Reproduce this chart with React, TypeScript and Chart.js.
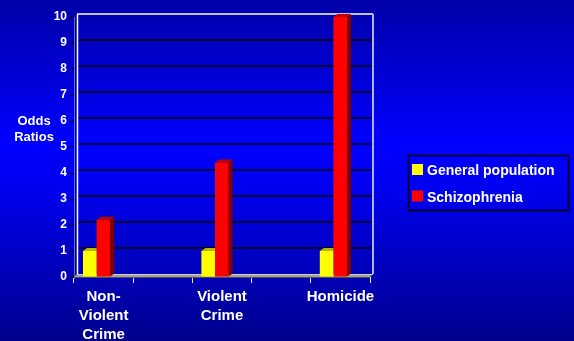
import React, { useEffect, useRef } from "react";
import { Chart, registerables } from "chart.js";

Chart.register(...registerables);

const categories: (string | string[])[] = [["Non-", "Violent", "Crime"], "", ["Violent", "Crime"], "", "Homicide"];
const generalPopulation: (number | null)[] = [1, null, 1, null, 1];
const schizophrenia: (number | null)[] = [2.2, null, 4.4, null, 10];
const seriesNames = ["General population", "Schizophrenia"];
const seriesColors = ["#ffff00", "#ff0000"];
const topColors = ["#b8b800", "#c00000"];
const sideColors = ["#9a9a00", "#800000"];
const yTitle = ["Odds", "Ratios"];

const FONT = "Arial, 'Liberation Sans', sans-serif";
const DX = 3;
const DY = 3;
const SHIFT = -7;

const bgPlugin = {
  id: "bg",
  beforeDraw(chart: any) {
    const { ctx, width, height } = chart;
    const g = ctx.createLinearGradient(0, 0, 0, height);
    g.addColorStop(0, "#0000a8");
    g.addColorStop(0.42, "#0000ff");
    g.addColorStop(0.55, "#0000f0");
    g.addColorStop(1, "#00008c");
    ctx.save();
    ctx.fillStyle = g;
    ctx.fillRect(0, 0, width, height);
    ctx.restore();
  },
};

function drawFaces(chart: any, idx: number, clipTop: boolean) {
  const { ctx } = chart;
  const meta = chart.getDatasetMeta(idx);
  const values = chart.data.datasets[idx].data;
  meta.data.forEach((el: any, i: number) => {
    if (values[i] == null) return;
    const p = el.getProps(["x", "y", "base", "width"], true);
    const l = p.x - p.width / 2;
    const r = p.x + p.width / 2;
    ctx.fillStyle = topColors[idx];
    ctx.beginPath();
    ctx.moveTo(l, p.y);
    ctx.lineTo(r, p.y);
    if (clipTop) {
      ctx.lineTo(r, p.y - DY);
    } else {
      ctx.lineTo(r + DX + 1, p.y - DY);
    }
    ctx.lineTo(l + DX + 1, p.y - DY);
    ctx.closePath();
    ctx.fill();
    if (!clipTop) {
      ctx.fillStyle = sideColors[idx];
      ctx.beginPath();
      ctx.moveTo(r, p.y);
      ctx.lineTo(r + DX + 1, p.y - DY);
      ctx.lineTo(r + DX + 1, p.base - DY);
      ctx.lineTo(r, p.base);
      ctx.closePath();
      ctx.fill();
    }
  });
}

const frame3dPlugin = {
  id: "frame3d",
  beforeDatasetsDraw(chart: any) {
    const { ctx, chartArea } = chart;
    const y = chart.scales.y;
    const { left, right, top, bottom } = chartArea;
    ctx.save();
    // floor
    ctx.fillStyle = "#a0a0a0";
    ctx.beginPath();
    ctx.moveTo(left, bottom);
    ctx.lineTo(right, bottom);
    ctx.lineTo(right + DX, bottom - DY);
    ctx.lineTo(left + DX, bottom - DY);
    ctx.closePath();
    ctx.fill();
    ctx.strokeStyle = "#d0d0d0";
    ctx.lineWidth = 1;
    ctx.beginPath();
    ctx.moveTo(left + DX, bottom - DY + 0.5);
    ctx.lineTo(right + DX, bottom - DY + 0.5);
    ctx.stroke();
    ctx.strokeStyle = "#505050";
    ctx.beginPath();
    ctx.moveTo(left, bottom + 0.5);
    ctx.lineTo(right, bottom + 0.5);
    ctx.stroke();
    // back grid lines
    ctx.strokeStyle = "#000000";
    ctx.lineWidth = 1.5;
    for (let v = 1; v <= 9; v++) {
      const py = Math.round(y.getPixelForValue(v)) - DY;
      ctx.beginPath();
      ctx.moveTo(left + DX, py);
      ctx.lineTo(right + DX, py);
      ctx.stroke();
    }
    // top back edge
    const ty = Math.round(y.getPixelForValue(10)) - DY;
    ctx.strokeStyle = "#ffffff";
    ctx.lineWidth = 1.5;
    ctx.beginPath();
    ctx.moveTo(left + DX, ty);
    ctx.lineTo(right + DX, ty);
    ctx.stroke();
    // left back edge
    ctx.beginPath();
    ctx.moveTo(left + DX + 0.5, ty);
    ctx.lineTo(left + DX + 0.5, bottom - DY);
    ctx.stroke();
    // right back edge
    ctx.strokeStyle = "#b0b0ff";
    ctx.lineWidth = 2;
    ctx.beginPath();
    ctx.moveTo(right + DX, ty);
    ctx.lineTo(right + DX, bottom - DY);
    ctx.stroke();
    // front left axis
    ctx.strokeStyle = "#707070";
    ctx.lineWidth = 1;
    ctx.beginPath();
    ctx.moveTo(left + 0.5, top);
    ctx.lineTo(left + 0.5, bottom + 2);
    ctx.stroke();
    ctx.restore();

    ctx.save();
    ctx.translate(SHIFT, 0);
  },
  afterDatasetDraw(chart: any, args: any) {
    // dataset 1 (red) is drawn first, dataset 0 (yellow) last
    const idx = args.index;
    if (idx === 1) {
      drawFaces(chart, 1, false);
    } else {
      drawFaces(chart, 0, true);
    }
  },
  afterDatasetsDraw(chart: any) {
    chart.ctx.restore();
  },
};

const textPlugin = {
  id: "texts",
  afterDraw(chart: any) {
    const { ctx } = chart;
    ctx.save();
    ctx.fillStyle = "#ffffff";
    ctx.font = `bold 13px ${FONT}`;
    ctx.textAlign = "center";
    ctx.textBaseline = "alphabetic";
    ctx.fillText(yTitle[0], 34, 125);
    ctx.fillText(yTitle[1], 34, 141);

    // legend
    const lx = 408.5, ly = 155.5, lw = 160, lh = 55;
    ctx.strokeStyle = "#000000";
    ctx.lineWidth = 1.5;
    ctx.strokeRect(lx, ly, lw, lh);
    ctx.textAlign = "left";
    ctx.font = `bold 14px ${FONT}`;
    seriesNames.forEach((name, i) => {
      const cy = 170 + i * 26.5;
      ctx.fillStyle = seriesColors[i];
      ctx.fillRect(412, cy - 6, 11, 11);
      ctx.fillStyle = "#ffffff";
      ctx.fillText(name, 427, cy + 5);
    });
    ctx.restore();
  },
};

export default function App() {
  const ref = useRef<HTMLCanvasElement | null>(null);
  useEffect(() => {
    if (!ref.current) return;
    const chart = new Chart(ref.current, {
      type: "bar",
      data: {
        labels: categories as any,
        datasets: [
          {
            label: seriesNames[0],
            data: generalPopulation,
            backgroundColor: seriesColors[0],
            categoryPercentage: 0.46,
            barPercentage: 1,
          },
          {
            label: seriesNames[1],
            data: schizophrenia,
            backgroundColor: seriesColors[1],
            categoryPercentage: 0.46,
            barPercentage: 1,
          },
        ],
      },
      options: {
        animation: false,
        responsive: true,
        maintainAspectRatio: false,
        layout: { padding: { top: 17, right: 204, left: 0, bottom: 0 } },
        plugins: {
          legend: { display: false },
          tooltip: { enabled: false },
          title: { display: false },
        },
        scales: {
          x: {
            grid: {
              offset: true,
              drawOnChartArea: false,
              drawTicks: true,
              tickLength: 6,
              tickColor: "#e8e8e8",
              lineWidth: 1,
            },
            border: { display: false },
            ticks: {
              color: "#ffffff",
              font: { family: FONT, size: 15, weight: "bold", lineHeight: "19px" },
              padding: 4,
              maxRotation: 0,
              minRotation: 0,
              autoSkip: false,
            },
            afterFit(scale: any) {
              scale.height = 64;
            },
          },
          y: {
            min: 0,
            max: 10,
            ticks: {
              stepSize: 1,
              color: "#ffffff",
              font: { family: FONT, size: 12, weight: "bold" },
              padding: 3,
            },
            grid: {
              drawOnChartArea: false,
              drawTicks: true,
              tickLength: 4,
              tickColor: "#000000",
            },
            border: { display: false },
            afterFit(scale: any) {
              scale.width = 74;
            },
          },
        },
      },
      plugins: [bgPlugin, frame3dPlugin, textPlugin],
    } as any);
    return () => chart.destroy();
  }, []);
  return (
    <div style={{ position: "fixed", left: 0, top: 0, width: 574, height: 341 }}>
      <canvas ref={ref} />
    </div>
  );
}
